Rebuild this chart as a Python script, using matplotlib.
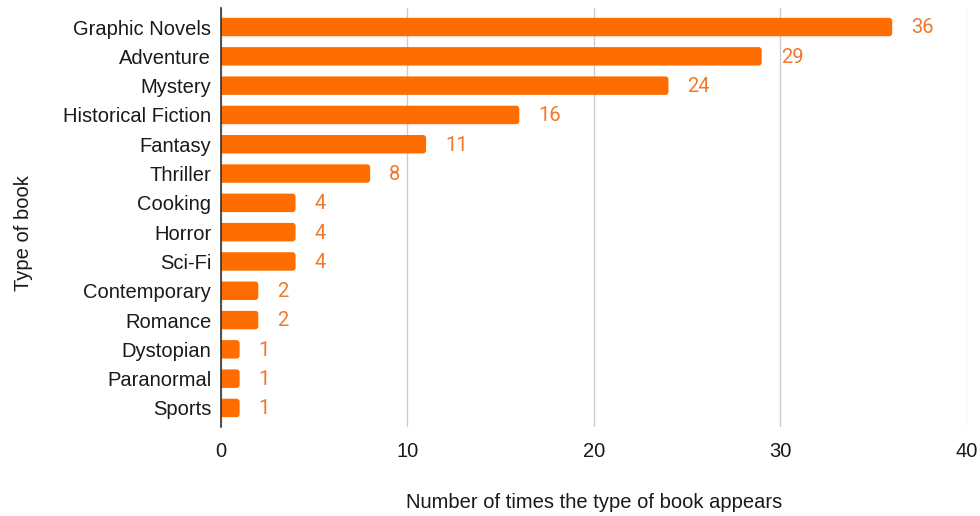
import matplotlib
matplotlib.use("Agg")
import matplotlib.pyplot as plt
from matplotlib.patches import FancyBboxPatch

genres = ["Graphic Novels", "Adventure", "Mystery", "Historical Fiction", "Fantasy",
          "Thriller", "Cooking", "Horror", "Sci-Fi", "Contemporary", "Romance",
          "Dystopian", "Paranormal", "Sports"]
counts = [36, 29, 24, 16, 11, 8, 4, 4, 4, 2, 2, 1, 1, 1]
xticks = [0, 10, 20, 30, 40]

BAR = "#ff6d01"
LABEL = "#f0782a"
TEXT = "#1a1a1a"
FS = 14.5

fig = plt.figure(figsize=(9.8, 5.16), dpi=100)
ax = fig.add_axes([0.2255, 0.1725, 0.761, 0.812])

ypos = list(range(len(genres)))
bars = ax.barh(ypos, counts, height=0.63, color="none")
ax.set_xlim(0, 40)
ax.set_ylim(len(genres) - 0.35, -0.65)

# swap plain rectangles for rounded ones (radius ~3px in both directions)
px_x = 40 / (0.761 * 980)
px_y = (len(genres) + 0.3) / (0.812 * 516)
r = 3 * px_x
for rect in bars:
    x0, y0 = rect.get_x(), rect.get_y()
    w, h = rect.get_width(), rect.get_height()
    ax.add_patch(FancyBboxPatch((x0 - r, y0), w + r, h,
                                boxstyle=f"round,pad=0,rounding_size={r}",
                                mutation_aspect=px_y / px_x,
                                facecolor=BAR, edgecolor="none", zorder=3))
    ax.text(w + 19 * px_x, y0 + h / 2 + 0.03, str(int(w)), va="center", ha="left",
            color=LABEL, fontsize=FS, family="Roboto")

ax.set_yticks(ypos)
ax.set_yticklabels(genres, fontsize=FS, family="Liberation Sans", color=TEXT)
ax.set_xticks(xticks)
ax.set_xticklabels([str(t) for t in xticks], fontsize=FS, family="Liberation Sans",
                   color=TEXT)
ax.tick_params(length=0)
ax.tick_params(axis="y", pad=7)
ax.tick_params(axis="x", pad=11)

ax.grid(axis="x", color="#cccccc", linewidth=1)
ax.set_axisbelow(True)
for side in ["top", "right", "bottom"]:
    ax.spines[side].set_visible(False)
ax.spines["left"].set_color("#333333")
ax.spines["left"].set_linewidth(1.2)
ax.spines["left"].set_zorder(4)

ax.set_xlabel("Number of times the type of book appears", fontsize=FS,
              family="Liberation Sans", color=TEXT)
ax.set_ylabel("Type of book", fontsize=FS, family="Liberation Sans", color=TEXT)
ax.xaxis.set_label_coords(0.5, -0.158)
ax.yaxis.set_label_coords(-0.252, 0.462)

fig.savefig("out.png", dpi=100)
